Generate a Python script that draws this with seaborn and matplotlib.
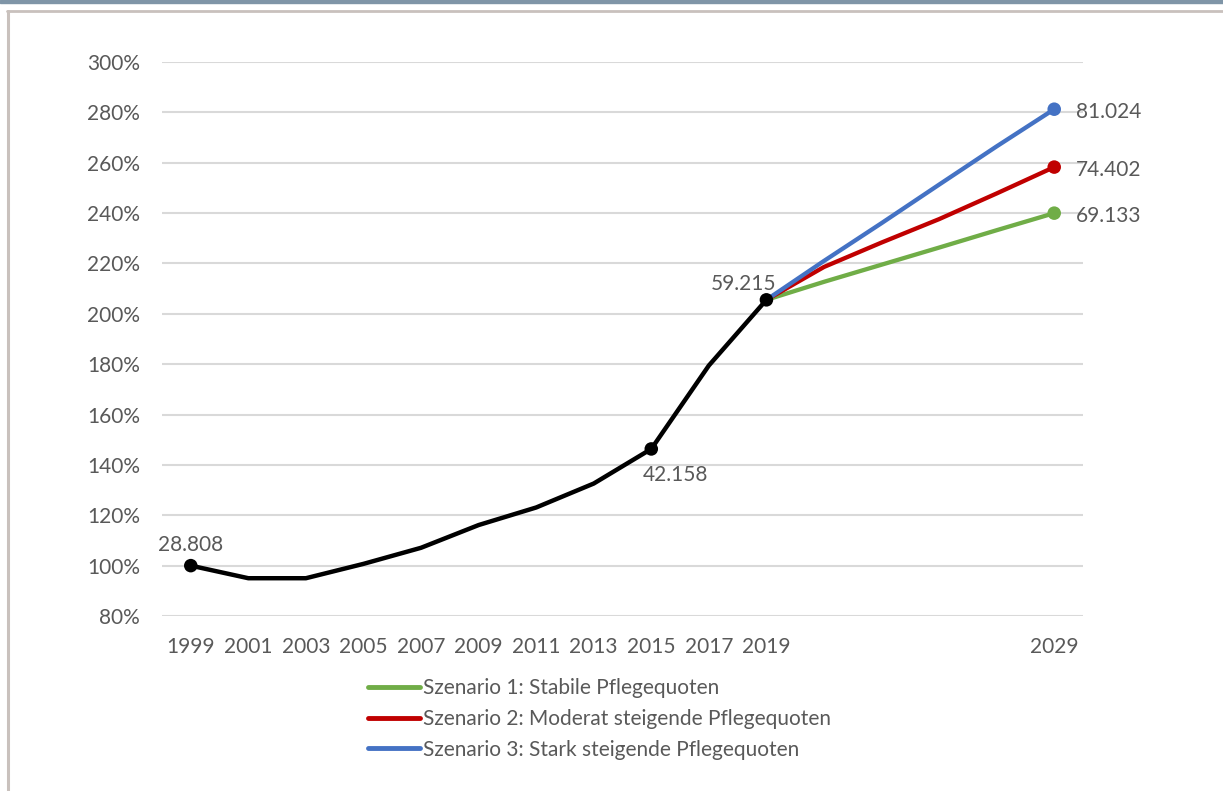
import matplotlib
matplotlib.use("Agg")
import matplotlib.pyplot as plt
from matplotlib.lines import Line2D
from matplotlib.patches import Rectangle
import numpy as np
import pandas as pd
import seaborn as sns

# Pflegebedürftige (Anzahl) – Verlauf und Vorausberechnung
hist_years = [1999, 2001, 2003, 2005, 2007, 2009, 2011, 2013, 2015, 2017, 2019]
hist_counts = [28808, 27368, 27368, 29010, 30850, 33450, 35460, 38200, 42158, 51700, 59215]

proj_years = [2019, 2021, 2023, 2025, 2027, 2029]
szenario_1 = [59215, 61275, 63234, 65193, 67180, 69133]
szenario_2 = [59215, 62974, 65769, 68448, 71386, 74402]
szenario_3 = [59215, 63666, 67987, 72395, 76773, 81024]

scenario_names = [
    "Szenario 1: Stabile Pflegequoten",
    "Szenario 2: Moderat steigende Pflegequoten",
    "Szenario 3: Stark steigende Pflegequoten",
]
scenario_colors = ["#70ad47", "#c00000", "#4472c4"]

labeled_years = [1999, 2015, 2019]
x_ticks = [1999, 2001, 2003, 2005, 2007, 2009, 2011, 2013, 2015, 2017, 2019, 2029]
y_ticks = [80, 100, 120, 140, 160, 180, 200, 220, 240, 260, 280, 300]

base = hist_counts[0]

hist = pd.DataFrame({"Jahr": hist_years, "Anzahl": hist_counts})
hist["Index"] = hist["Anzahl"] / base * 100

proj = pd.concat(
    [pd.DataFrame({"Jahr": proj_years, "Anzahl": vals, "Szenario": name})
     for name, vals in zip(scenario_names, [szenario_1, szenario_2, szenario_3])],
    ignore_index=True,
)
proj["Index"] = proj["Anzahl"] / base * 100

sns.set_theme(style="whitegrid")
plt.rcParams["font.family"] = ["Lato", "DejaVu Sans"]
text_color = "#595959"
fs = 15

fig = plt.figure(figsize=(12.23, 7.91), dpi=100)
ax = fig.add_axes([162 / 1223, 1 - 616 / 791, (1083 - 162) / 1223, (616 - 62) / 791])

palette = dict(zip(scenario_names, scenario_colors))
sns.lineplot(data=proj, x="Jahr", y="Index", hue="Szenario", palette=palette,
             linewidth=3.1, ax=ax, legend=False, zorder=3)
sns.lineplot(data=hist, x="Jahr", y="Index", color="black", linewidth=3.2,
             ax=ax, legend=False, zorder=4)

# markers at the annotated points
marked = hist[hist["Jahr"].isin(labeled_years)]
sns.scatterplot(data=marked, x="Jahr", y="Index", color="black", s=95,
                edgecolor="none", ax=ax, zorder=5, legend=False)
ends = proj[proj["Jahr"] == proj_years[-1]]
sns.scatterplot(data=ends, x="Jahr", y="Index", hue="Szenario", palette=palette,
                s=95, edgecolor="none", ax=ax, zorder=5, legend=False)


def fmt(v):
    return f"{v:,}".replace(",", ".")


offsets = {1999: (0, 21), 2015: (24, -26), 2019: (-23, 16)}
for _, r in marked.iterrows():
    dx, dy = offsets[int(r["Jahr"])]
    ax.annotate(fmt(int(r["Anzahl"])), (r["Jahr"], r["Index"]),
                xytext=(dx, dy), textcoords="offset pixels",
                ha="center", va="center", fontsize=fs, color=text_color)
for _, r in ends.iterrows():
    ax.annotate(fmt(int(r["Anzahl"])), (r["Jahr"], r["Index"]),
                xytext=(22, -3), textcoords="offset pixels",
                ha="left", va="center", fontsize=fs, color=text_color)

ax.set_xlim(1998, 2030)
ax.set_ylim(80, 300)
ax.set_xticks(x_ticks)
ax.set_yticks(y_ticks)
ax.set_yticklabels([f"{t}%" for t in y_ticks])
ax.set_xlabel("")
ax.set_ylabel("")
ax.tick_params(axis="both", length=0, labelsize=fs, colors=text_color)
ax.tick_params(axis="x", pad=15)
ax.tick_params(axis="y", pad=16)
ax.grid(axis="x", visible=False)
ax.grid(axis="y", color="#d9d9d9", linewidth=1.5)
for s in ax.spines.values():
    s.set_visible(False)
ax.set_facecolor("white")

handles = [Line2D([], [], color=c, linewidth=3.5) for c in scenario_colors]
fig.legend(handles, scenario_names, loc="upper left",
           bbox_to_anchor=(368 / 1223, 1 - 678 / 791), frameon=False,
           fontsize=fs, labelcolor=text_color, handlelength=2.5,
           handletextpad=0.15, labelspacing=0.52, borderaxespad=0,
           borderpad=0)

# frame decoration around the chart
fig.patches.append(Rectangle((0, 1 - 3 / 791), 1, 3 / 791, transform=fig.transFigure,
                             color="#7f95a7", zorder=0))
fig.lines.append(Line2D([7 / 1223, 1], [1 - 11 / 791, 1 - 11 / 791],
                        transform=fig.transFigure, color="#c9c1bd", linewidth=2))
fig.lines.append(Line2D([8 / 1223, 8 / 1223], [0, 1 - 11 / 791],
                        transform=fig.transFigure, color="#c9c1bd", linewidth=2.2))

fig.savefig("out.png", dpi=100, facecolor="white")
